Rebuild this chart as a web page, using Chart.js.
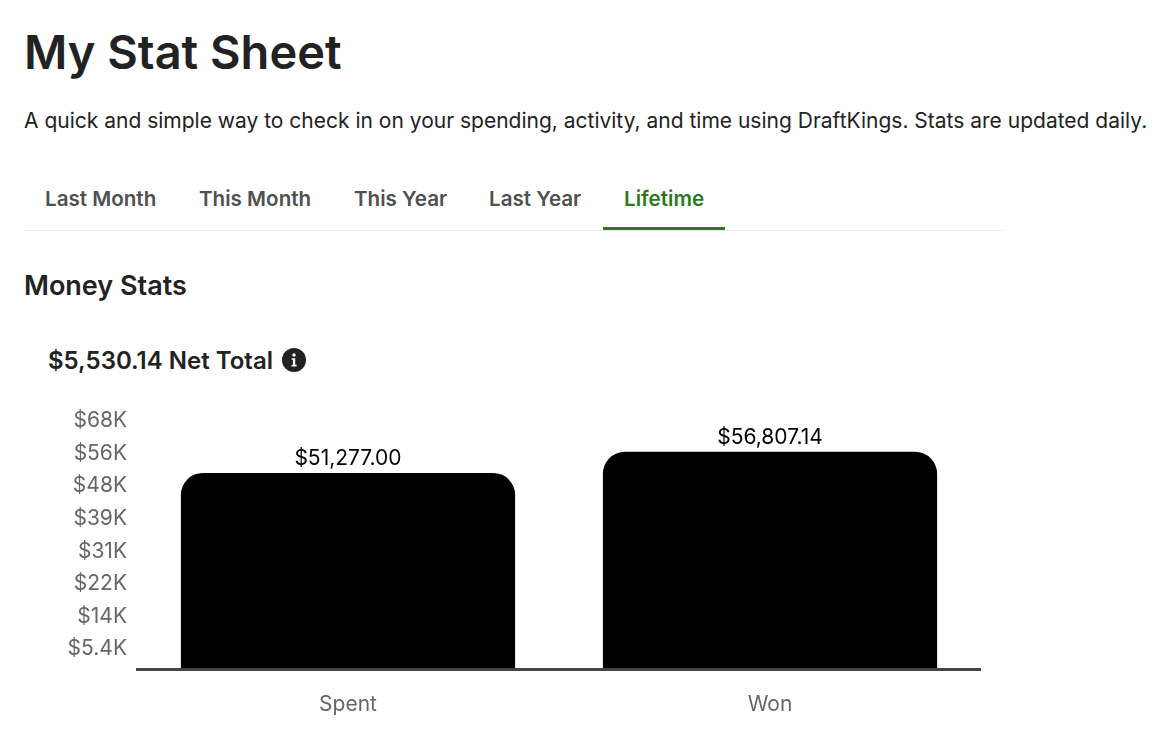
<!DOCTYPE html>
<html lang="en">
  <head>
    <meta charset="UTF-8" />
    <title>My Stat Sheet</title>
    <script src="https://cdn.jsdelivr.net/npm/chart.js@4"></script>
    <style>
      html, body { margin: 0; padding: 0; background: #fff; overflow: hidden; }
      body { width: 1161px; height: 735px; position: relative; font-family: Inter, sans-serif; color: #222; }
      .abs { position: absolute; white-space: nowrap; }
      h1 { margin: 0; left: 24px; top: 23px; font-size: 47px; line-height: 58px; font-weight: 600; }
      .intro { left: 24px; top: 108px; font-size: 21px; line-height: 26px; }
      .tabs { left: 24px; top: 168px; width: 981px; height: 62px; border-bottom: 1px solid #eee; }
      .tab { position: absolute; top: 18px; font-size: 20.6px; line-height: 26px; font-weight: 600; color: #505050; }
      .tab.active { color: #2a7a1a; }
      .underline { position: absolute; left: 579px; top: 59px; width: 122px; height: 3px; background: #2a7a1a; }
      h2 { margin: 0; left: 24px; top: 270px; font-size: 27px; line-height: 31px; font-weight: 600; }
      .net { left: 48px; top: 346px; font-size: 24px; line-height: 29px; font-weight: 600; }
      .info { left: 282px; top: 348px; width: 24px; height: 24px; }
      #wrap { position: absolute; left: 0; top: 378px; width: 981px; height: 358px; }
    </style>
  </head>
  <body>
    <h1 class="abs">My Stat Sheet</h1>
    <div class="abs intro">A quick and simple way to check in on your spending, activity, and time using DraftKings. Stats are updated daily.</div>
    <div class="abs tabs">
      <div class="tab" style="left: 21px">Last Month</div>
      <div class="tab" style="left: 175px">This Month</div>
      <div class="tab" style="left: 330px">This Year</div>
      <div class="tab" style="left: 465px">Last Year</div>
      <div class="tab active" style="left: 600px">Lifetime</div>
      <div class="underline"></div>
    </div>
    <h2 class="abs">Money Stats</h2>
    <div class="abs net">$5,530.14 Net Total</div>
    <svg class="abs info" viewBox="0 0 24 24">
      <circle cx="12" cy="12" r="12" fill="#222" />
      <circle cx="12" cy="7" r="1.7" fill="#fff" />
      <path d="M9.6 10.2h3.6v6.6h1.4v1.6H9.6v-1.6h1.4v-5H9.6z" fill="#fff" />
    </svg>
    <div id="wrap"><canvas id="moneyChart"></canvas></div>

    <script>
      const categories = ["Spent", "Won"];
      const amounts = [51277.0, 56807.14];
      const tickValues = [5200, 13800, 22300, 30800, 39400, 47900, 56300, 65000];
      const tickLabels = ["$5.4K", "$14K", "$22K", "$31K", "$39K", "$48K", "$56K", "$68K"];

      const FONT = "Inter, sans-serif";

      // draws the dollar amount above each bar
      const barValueLabels = {
        id: "barValueLabels",
        afterDatasetsDraw(chart) {
          const ctx = chart.ctx;
          const meta = chart.getDatasetMeta(0);
          ctx.save();
          ctx.font = "21px " + FONT;
          ctx.fillStyle = "#000";
          ctx.textAlign = "center";
          ctx.textBaseline = "bottom";
          meta.data.forEach((bar, i) => {
            const text = "$" + amounts[i].toLocaleString("en-US", { minimumFractionDigits: 2, maximumFractionDigits: 2 });
            ctx.fillText(text, bar.x, bar.y - 4);
          });
          ctx.restore();
        },
      };

      new Chart(document.getElementById("moneyChart").getContext("2d"), {
        type: "bar",
        data: {
          labels: categories,
          datasets: [
            {
              data: amounts,
              backgroundColor: "#000",
              barPercentage: 0.792,
              categoryPercentage: 1,
              borderRadius: { topLeft: 22, topRight: 22, bottomLeft: 0, bottomRight: 0 },
              borderSkipped: false,
            },
          ],
        },
        options: {
          responsive: true,
          maintainAspectRatio: false,
          animation: false,
          layout: { padding: 0 },
          plugins: { legend: { display: false }, tooltip: { enabled: false } },
          scales: {
            x: {
              grid: { display: false, drawTicks: false },
              border: { display: true, color: "#444", width: 3, z: 1 },
              ticks: { color: "#666", padding: 23, font: { family: FONT, size: 21 } },
              afterFit(scale) { scale.height = 67; },
            },
            y: {
              min: 0,
              max: 70200,
              grid: { display: false, drawTicks: false },
              border: { display: false },
              afterBuildTicks(scale) { scale.ticks = tickValues.map((v) => ({ value: v })); },
              afterFit(scale) { scale.width = 137; },
              ticks: {
                autoSkip: false,
                color: "#666",
                padding: 10,
                font: { family: FONT, size: 21 },
                callback: (value) => tickLabels[tickValues.indexOf(value)],
              },
            },
          },
        },
        plugins: [barValueLabels],
      });
    </script>
  </body>
</html>
